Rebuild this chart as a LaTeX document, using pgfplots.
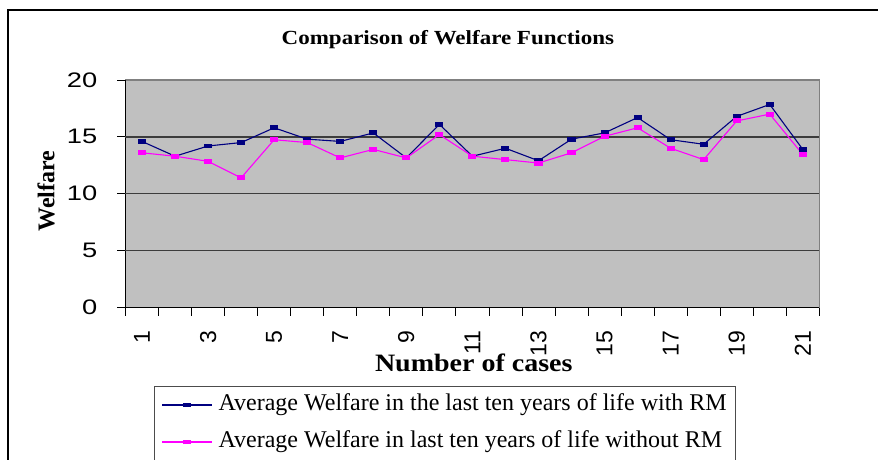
\documentclass[border=0pt]{standalone}
\usepackage{fontspec}
\setmainfont{Liberation Serif}
\newfontfamily\arialfont{Liberation Sans}
\usepackage{graphicx}
\usepackage{pgfplots}
\pgfplotsset{compat=1.18}
\definecolor{plotgray}{RGB}{192,192,192}
\definecolor{bordergray}{RGB}{128,128,128}
\definecolor{gridc}{RGB}{60,60,60}
\definecolor{navyc}{RGB}{0,0,128}
\definecolor{magc}{RGB}{255,0,255}
\begin{document}
\begin{tikzpicture}[x=1pt,y=1pt]
\useasboundingbox (0,0) rectangle (878,459);
\draw[line width=1.5pt] (8,-20) -- (8,449) -- (900,449);
\begin{axis}[
 at={(125.5pt,151.5pt)}, anchor=south west,
 scale only axis, width=693.8pt, height=227.5pt,
 xmin=0.5, xmax=21.5, ymin=0, ymax=20,
 axis lines*=left, axis line style={-, line width=1pt, black},
 axis background/.style={fill=plotgray, draw=bordergray, line width=1.5pt},
 tick align=outside, major tick length=8pt,
 tick style={black, line width=0.8pt},
 xtick={0.5,1.5,...,21.5}, xticklabels={},
 extra x ticks={1,3,...,21},
 extra x tick labels={1,3,5,7,9,11,13,15,17,19,21},
 extra x tick style={major tick length=0pt, tick style={draw=none}},
 xticklabel style={rotate=90, anchor=east, inner sep=0pt, font=\arialfont\fontsize{23}{23}\selectfont, xshift=-23pt},
 ytick={0,5,...,20},
 yticklabel={\scalebox{1.3}[1]{\pgfmathprintnumber{\tick}}},
 yticklabel style={anchor=east, inner sep=0pt, font=\arialfont\fontsize{21}{21}\selectfont, xshift=-20pt},
 /pgf/number format/assume math mode=true,
 extra y ticks={5,10,15}, extra y tick labels={},
 extra y tick style={grid=major, major tick length=0pt, tick style={draw=none}},
 grid style={gridc, line width=1.4pt},
 every axis title shift=0pt,
 title={Comparison of Welfare Functions},
 title style={at={(axis description cs:0.4647,1.176)}, anchor=center, font=\bfseries\fontsize{20}{20}\selectfont, xscale=1.15, inner sep=0pt},
 xlabel={Number of cases},
 xlabel style={at={(axis description cs:0.502,-0.242)}, anchor=center, font=\bfseries\fontsize{25}{25}\selectfont, xscale=1.12, inner sep=0pt},
 ylabel={Welfare},
 ylabel style={at={(axis description cs:-0.1146,0.512)}, anchor=center, font=\bfseries\fontsize{24}{24}\selectfont, inner sep=0pt},
 legend style={at={(axis description cs:0.0411,-0.345)}, anchor=north west, draw=black!70, line width=1pt, fill=white, inner xsep=7pt, inner ysep=6pt, column sep=4pt, row sep=12pt, nodes={inner sep=2pt, text height=16pt, text depth=5pt}, font=\fontsize{24}{28}\selectfont},
 legend cell align=left,
 legend image code/.code={\draw[mark repeat=2,mark phase=2,#1] plot coordinates {(0pt,0pt) (25pt,0pt) (50pt,0pt)};},
]
\addplot[navyc, line width=1.1pt, mark=square*, mark size=3.5pt, mark options={yscale=0.55, solid}] coordinates {
(1,14.6) (2,13.3) (3,14.2) (4,14.5) (5,15.8) (6,14.8) (7,14.6) (8,15.35) (9,13.15) (10,16.1) (11,13.3)
(12,14.0) (13,12.9) (14,14.8) (15,15.35) (16,16.7) (17,14.75) (18,14.35) (19,16.8) (20,17.85) (21,13.9)};
\addlegendentry{Average Welfare in the last ten years of life with RM}
\addplot[magc, line width=1.1pt, mark=square*, mark size=3.5pt, mark options={yscale=0.55, solid}] coordinates {
(1,13.6) (2,13.3) (3,12.85) (4,11.4) (5,14.75) (6,14.5) (7,13.15) (8,13.9) (9,13.15) (10,15.2) (11,13.3)
(12,13.0) (13,12.7) (14,13.6) (15,15.05) (16,15.8) (17,14.0) (18,13.0) (19,16.4) (20,17.0) (21,13.45)};
\addlegendentry{Average Welfare in last ten years of life without RM}
\end{axis}
\end{tikzpicture}
\end{document}
